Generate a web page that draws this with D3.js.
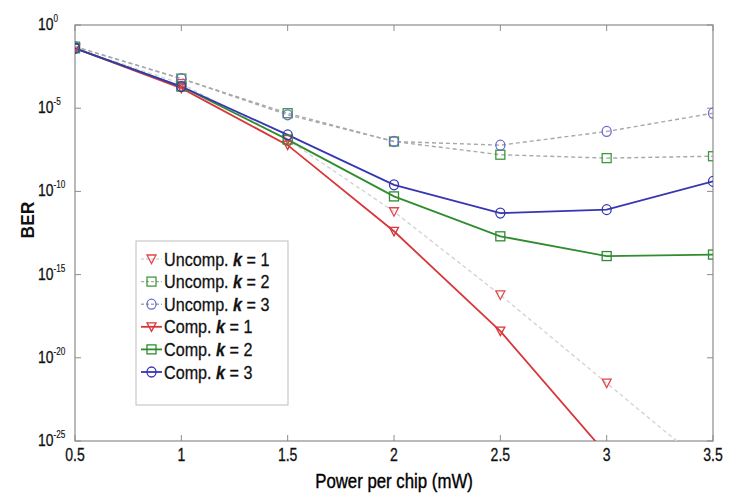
<!DOCTYPE html>
<html><head><meta charset="utf-8">
<script src="https://cdn.jsdelivr.net/npm/d3@7"></script>
<style>
body{margin:0;background:#fff;}
text{font-family:"Liberation Sans Narrow","Arial Narrow","Liberation Sans",Arial,sans-serif;}
</style></head>
<body><svg id="c" width="729" height="494"></svg>
<script>
const powers = [0.5, 1, 1.5, 2, 2.5, 3, 3.5];
const uncompK1 = [4e-2, 3e-4, 1.3e-7, 6e-12, 6e-17, 3e-22, 1.6e-27];
const uncompK2 = [5e-2, 6e-4, 5e-6, 1e-7, 1.6e-8, 1e-8, 1.3e-8];
const uncompK3 = [5e-2, 6e-4, 4e-6, 1e-7, 6e-8, 4e-7, 5e-6];
const compK1 = [4e-2, 1.6e-4, 6e-8, 4e-13, 4e-19, 1.6e-26, 1e-33];
const compK2 = [4e-2, 2e-4, 1.3e-7, 5e-11, 2e-13, 1.3e-14, 1.6e-14];
const compK3 = [4e-2, 2e-4, 2.5e-7, 2.5e-10, 5e-12, 8e-12, 4e-10];
const xTicks = [0.5, 1, 1.5, 2, 2.5, 3, 3.5];
const yTickExps = [0, -5, -10, -15, -20, -25];
const seriesNames = ["Uncomp.","Uncomp.","Uncomp.","Comp.","Comp.","Comp."];
const seriesK = [1, 2, 3, 1, 2, 3];

const styles = [
  {line:"#d4d4d4", mk:"#e0474a", dash:"4,3", shape:"tri"},
  {line:"#a8a8a8", mk:"#3c9a3c", dash:"4,3", shape:"sq"},
  {line:"#a8a8a8", mk:"#6a6ad0", dash:"4,3", shape:"circ"},
  {line:"#d8363a", mk:"#d8363a", dash:null, shape:"tri"},
  {line:"#2f8c2f", mk:"#2f8c2f", dash:null, shape:"sq"},
  {line:"#3636b4", mk:"#3636b4", dash:null, shape:"circ"}
];
const allVals = [uncompK1, uncompK2, uncompK3, compK1, compK2, compK3];
const series = allVals.map((v,i)=>Object.assign({name:seriesNames[i], k:seriesK[i], vals:v}, styles[i]));

const L=75, R=713, T=25, B=441;
const svg = d3.select("#c");
const x = d3.scaleLinear().domain([0.5,3.5]).range([L,R]);
const y = d3.scaleLog().domain([1e-25,1]).range([B,T]);

// text drawn at (px,py), horizontally condensed by factor f
function ctext(parent, px, py, f){
  return parent.append("text").attr("transform",`translate(${px},${py}) scale(${f},1)`);
}

svg.append("defs").append("clipPath").attr("id","clip")
  .append("rect").attr("x",L).attr("y",T).attr("width",R-L).attr("height",B-T);

svg.append("rect").attr("x",L).attr("y",T).attr("width",R-L).attr("height",B-T)
  .attr("fill","none").attr("stroke","#8c8c8c").attr("stroke-width",1.2);

const tk = 6;
xTicks.forEach(v=>{
  svg.append("line").attr("x1",x(v)).attr("x2",x(v)).attr("y1",B).attr("y2",B-tk).attr("stroke","#8c8c8c");
  svg.append("line").attr("x1",x(v)).attr("x2",x(v)).attr("y1",T).attr("y2",T+tk).attr("stroke","#8c8c8c");
  ctext(svg, x(v), 461, 0.78).attr("text-anchor","middle")
    .attr("font-size",18).attr("fill","#111").attr("stroke","#111").attr("stroke-width",0.3).text(v);
});
yTickExps.forEach(e=>{
  const yy = y(Math.pow(10,e));
  svg.append("line").attr("x1",L).attr("x2",L+tk).attr("y1",yy).attr("y2",yy).attr("stroke","#8c8c8c");
  svg.append("line").attr("x1",R).attr("x2",R-tk).attr("y1",yy).attr("y2",yy).attr("stroke","#8c8c8c");
  const t = ctext(svg, 38, yy+5, 0.82).attr("font-size",17).attr("fill","#111").attr("stroke","#111").attr("stroke-width",0.3);
  t.append("tspan").text("10");
  t.append("tspan").attr("dy",-8).attr("font-size",10).attr("stroke-width",0.15).text(e===0?"0":"-"+(-e));
});

ctext(svg, 394, 488, 0.8).attr("text-anchor","middle")
  .attr("font-size",21).attr("fill","#000").attr("stroke","#000").attr("stroke-width",0.4).text("Power per chip (mW)");
svg.append("text").attr("transform","translate(34,220) rotate(-90) scale(0.92,1)").attr("text-anchor","middle")
  .attr("font-size",19).attr("font-weight","bold").attr("fill","#111")
  .attr("font-family","Liberation Sans, Arial, sans-serif").text("BER");

const line = d3.line().x((d,i)=>x(powers[i])).y(d=>y(d));
const g = svg.append("g").attr("clip-path","url(#clip)");

function marker(sel, shape, cx, cy, color){
  if(shape==="tri"){
    sel.append("path").attr("d",`M${cx-4.5},${cy-4}L${cx+4.5},${cy-4}L${cx},${cy+4.5}Z`)
      .attr("fill","none").attr("stroke",color).attr("stroke-width",1.3);
  } else if(shape==="sq"){
    sel.append("rect").attr("x",cx-4.5).attr("y",cy-4.5).attr("width",9).attr("height",9)
      .attr("fill","none").attr("stroke",color).attr("stroke-width",1.3);
  } else {
    sel.append("ellipse").attr("cx",cx).attr("cy",cy).attr("rx",4.5).attr("ry",5)
      .attr("fill","none").attr("stroke",color).attr("stroke-width",1.3);
  }
}

series.forEach(s=>{
  g.append("path").datum(s.vals).attr("d",line).attr("fill","none")
    .attr("stroke",s.line).attr("stroke-width",s.dash?1.4:1.8)
    .attr("stroke-dasharray",s.dash);
});
series.forEach(s=>{
  s.vals.forEach((v,i)=>{
    if(v>=1e-25) marker(g, s.shape, x(powers[i]), y(v), s.mk);
  });
});

const lx=136, ly=241, lw=152, lh=164;
svg.append("rect").attr("x",lx).attr("y",ly).attr("width",lw).attr("height",lh)
  .attr("fill","#fff").attr("stroke","#bdbdbd").attr("stroke-width",1);
series.forEach((s,i)=>{
  const cy = 259 + i*22.6;
  svg.append("line").attr("x1",141).attr("x2",162).attr("y1",cy).attr("y2",cy)
    .attr("stroke",s.line).attr("stroke-width",s.dash?1.4:1.8)
    .attr("stroke-dasharray",s.dash?"3,2":null);
  marker(svg, s.shape, 151.5, cy, s.mk);
  const t = ctext(svg, 164, cy+6.5, 0.85).attr("font-size",19).attr("fill","#111")
    .attr("stroke","#111").attr("stroke-width",0.3);
  t.append("tspan").text(s.name+" ");
  t.append("tspan").attr("font-style","italic").attr("font-weight","bold").text("k");
  t.append("tspan").text(" = "+s.k);
});
</script></body></html>
